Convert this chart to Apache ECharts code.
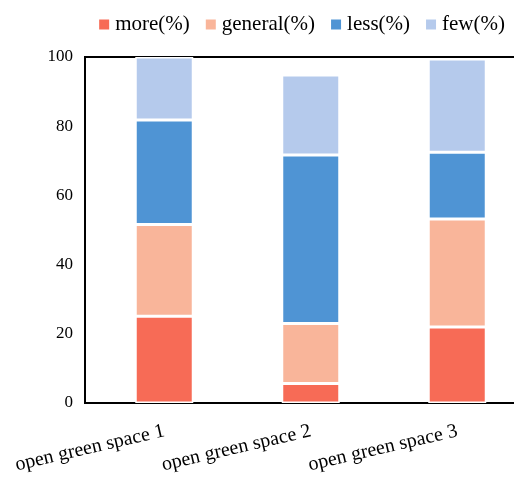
<!DOCTYPE html>
<html>
<head>
<meta charset="utf-8">
<script src="https://cdn.jsdelivr.net/npm/echarts@6/dist/echarts.min.js"></script>
<style>html,body{margin:0;padding:0;background:#fff;overflow:hidden;}#c{width:540px;height:477px;}</style>
</head>
<body>
<div id="c"></div>
<script>
var categories = ['open green space 1', 'open green space 2', 'open green space 3'];
var seriesNames = ['more(%)', 'general(%)', 'less(%)', 'few(%)'];
var more = [25.1, 5.6, 22.0];
var general = [26.5, 17.4, 31.2];
var less = [30.2, 48.7, 19.3];
var few = [18.2, 23.1, 26.9];
var yTicks = [0, 20, 40, 60, 80, 100];

var colors = ['#F76B56', '#F9B59A', '#4F94D4', '#B5CAEC'];
var values = [more, general, less, few];
var font = 'Liberation Serif';

var chart = echarts.init(document.getElementById('c'));
chart.setOption({
  animation: false,
  color: colors,
  legend: {
    right: 30, top: 9, itemWidth: 12, itemHeight: 12, itemGap: 14,
    icon: 'rect',
    textStyle: { fontFamily: font, fontSize: 21, color: '#000' },
    data: seriesNames
  },
  grid: [
    { left: 91, right: 9.5, top: 57, bottom: 74 },
    { left: 85, right: 0, top: 57, bottom: 74, show: true, borderColor: '#000', borderWidth: 2, backgroundColor: 'transparent' }
  ],
  xAxis: [
    {
      type: 'category', data: categories, gridIndex: 0,
      axisLine: { show: false }, axisTick: { show: false },
      axisLabel: { rotate: 13, margin: 28, fontFamily: font, fontSize: 20, color: '#000', interval: 0 }
    },
    { type: 'value', gridIndex: 1, show: false }
  ],
  yAxis: [
    {
      type: 'value', gridIndex: 0, min: 0, max: 100, interval: 20,
      axisLine: { show: false }, axisTick: { show: false }, splitLine: { show: false },
      axisLabel: { margin: 18, fontFamily: font, fontSize: 17, color: '#000',
        formatter: function (v) { return yTicks.indexOf(v) >= 0 ? String(v) : ''; } }
    },
    { type: 'value', gridIndex: 1, show: false }
  ],
  series: seriesNames.map(function (n, i) {
    return {
      name: n, type: 'bar', stack: 'total', barWidth: 58,
      xAxisIndex: 0, yAxisIndex: 0,
      itemStyle: { color: colors[i], borderColor: '#fff', borderWidth: 1.5 },
      data: values[i]
    };
  })
});
</script>
</body>
</html>
